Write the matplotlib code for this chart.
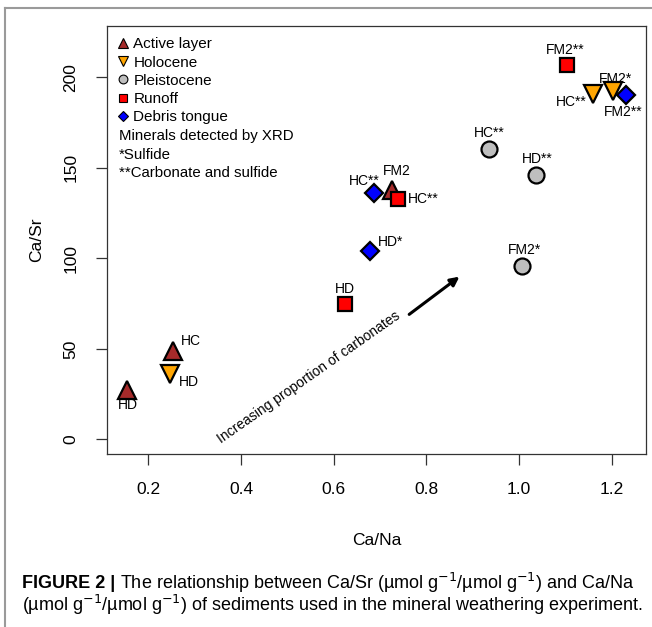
import matplotlib.pyplot as plt
from matplotlib.lines import Line2D

# Datos (Ca/Na, Ca/Sr)
active_x = [0.153, 0.254, 0.725]
active_y = [27, 49, 138]
active_lab = ['HD', 'HC', 'FM2']

holo_x = [0.247, 1.160, 1.203]
holo_y = [36, 190.5, 192.5]
holo_lab = ['HD', 'HC**', 'FM2*']

pleis_x = [0.935, 1.036, 1.007]
pleis_y = [160.4, 146.0, 95.9]
pleis_lab = ['HC**', 'HD**', 'FM2*']

runoff_x = [0.624, 0.738, 1.103]
runoff_y = [75, 132.8, 206.8]
runoff_lab = ['HD', 'HC**', 'FM2**']

debris_x = [0.686, 0.678, 1.230]
debris_y = [135.9, 104.0, 190.2]
debris_lab = ['HC**', 'HD*', 'FM2**']

x_ticks = [0.2, 0.4, 0.6, 0.8, 1.0, 1.2]
y_ticks = [0, 50, 100, 150, 200]

plt.rcParams['font.family'] = ['Liberation Sans', 'DejaVu Sans']

fig = plt.figure(figsize=(6.52, 6.27), dpi=100)
ax = fig.add_axes([0.1646, 0.2759, 0.9903 - 0.1646, 0.959 - 0.2759])

grupos = [
    (active_x, active_y, active_lab, '^', '#a52a2a', 13),
    (holo_x, holo_y, holo_lab, 'v', '#ffa500', 13),
    (pleis_x, pleis_y, pleis_lab, 'o', '#bebebe', 11.5),
    (runoff_x, runoff_y, runoff_lab, 's', '#ff0000', 10),
    (debris_x, debris_y, debris_lab, 'D', '#0000ff', 9.2),
]
for xs, ys, labs, mk, col, ms in grupos:
    ax.plot(xs, ys, linestyle='none', marker=mk, markersize=ms,
            markerfacecolor=col, markeredgecolor='black', markeredgewidth=1.6,
            zorder=3)

# posicion de las etiquetas (pixeles respecto al punto)
offsets = [
    [(1, -15, 'center'), (8, 10, 'left'), (5, 19, 'center')],
    [(9, -8, 'left'), (-7, -8, 'right'), (2, 12, 'center')],
    [(0, 16, 'center'), (1, 16, 'center'), (2, 16, 'center')],
    [(0, 15, 'center'), (10, 0, 'left'), (-2, 15, 'center')],
    [(-9, 12, 'center'), (8, 9, 'left'), (-3, -17, 'center')],
]
for (xs, ys, labs, mk, col, ms), offs in zip(grupos, offsets):
    for x, y, lab, (dx, dy, ha) in zip(xs, ys, labs, offs):
        ax.annotate(lab, (x, y), xytext=(dx, dy), textcoords='offset pixels',
                    ha=ha, va='center', fontsize=10, zorder=4)

# flecha y texto
ax.annotate('', xy=(0.876, 90.8), xytext=(0.758, 68.1),
            arrowprops=dict(arrowstyle='-|>', color='black', lw=2.2,
                            mutation_scale=13))
ax.text(0.547, 34.4, 'Increasing proportion of carbonates', rotation=35,
        rotation_mode='anchor', ha='center', va='center', fontsize=10)

ax.set_xlim(0.1115, 1.273)
ax.set_ylim(-8.1, 228.5)
ax.set_xticks(x_ticks)
ax.set_xticklabels(['0.2', '0.4', '0.6', '0.8', '1.0', '1.2'])
ax.set_yticks(y_ticks)
ax.set_yticklabels([str(v) for v in y_ticks], rotation=90, va='center')
ax.tick_params(direction='out', length=8, width=0.9, colors='#333333',
               labelsize=12.5, labelcolor='black')
ax.tick_params(axis='x', pad=12)
ax.tick_params(axis='y', pad=13)
for s in ax.spines.values():
    s.set_color('#333333')
    s.set_linewidth(0.9)
ax.set_xlabel('Ca/Na', fontsize=12.5, labelpad=26)
ax.set_ylabel('Ca/Sr', fontsize=12.5, labelpad=14)

# leyenda
handles = []
for xs, ys, labs, mk, col, ms in grupos:
    handles.append(Line2D([], [], linestyle='none', marker=mk, markersize=ms * 0.55,
                          markerfacecolor=col, markeredgecolor='black',
                          markeredgewidth=0.8))
nombres = ['Active layer', 'Holocene', 'Pleistocene', 'Runoff', 'Debris tongue']
ax.legend(handles, nombres, loc='upper left', bbox_to_anchor=(0.02, 0.973),
          frameon=False, fontsize=11, handlelength=0.7, handletextpad=0.3,
          labelspacing=0.28, borderpad=0, borderaxespad=0)
extra = ['Minerals detected by XRD', '*Sulfide', '**Carbonate and sulfide']
for i, t in enumerate(extra):
    ax.text(0.021, 1 - (135.7 - 25.7 + i * 18.8) / 428.3, t,
            transform=ax.transAxes, ha='left', va='center', fontsize=10.8)

# marco exterior
fig.add_artist(Line2D([5 / 652, 5 / 652], [0, 1 - 8 / 627], color='#9a9a9a', lw=1.5))
fig.add_artist(Line2D([5 / 652, 1], [1 - 8 / 627, 1 - 8 / 627], color='#9a9a9a', lw=1.5))

# pie de figura
cap = 13
t1 = fig.text(22 / 652, 1 - 583 / 627, 'FIGURE 2 |', fontsize=cap,
              fontweight='bold', va='center', ha='left')
ax.annotate(' The relationship between Ca/Sr (\u00b5mol g$^{-1}$/\u00b5mol g$^{-1}$) and Ca/Na',
            xy=(1, 0.5), xycoords=t1, va='center', ha='left', fontsize=cap,
            annotation_clip=False)
fig.text(22 / 652, 1 - 605 / 627,
         '(\u00b5mol g$^{-1}$/\u00b5mol g$^{-1}$) of sediments used in the mineral weathering experiment.',
         fontsize=cap, va='center', ha='left')

fig.savefig('out.png', dpi=100)
